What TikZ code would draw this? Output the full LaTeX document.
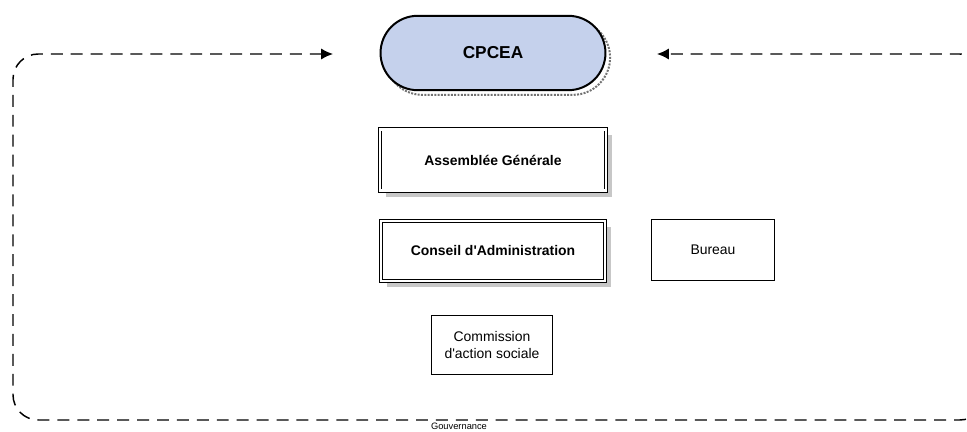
\documentclass[tikz,border=0pt]{standalone}
\usepackage{fontspec}
\setmainfont{Liberation Sans}
\usepackage{tikz}
\usetikzlibrary{%
	arrows.meta,%
	shapes.misc,%
	shadows
}
\definecolor{pillblue}{RGB}{197,209,236}

\begin{document}
\begin{tikzpicture}[x=0.02646cm, y=-0.02646cm,
	pill/.style={rounded rectangle, draw, line width=1.5pt, fill=pillblue, minimum width=176pt, minimum height=56pt, font=\fontsize{13}{15}\selectfont\bfseries, general shadow={draw=black!55, densely dotted, line width=1.5pt, shadow xshift=3.5pt, shadow yshift=-3.5pt}},
	organe/.style={rectangle, draw, double, double distance=1.6pt, line width=0.7pt, fill=white, font=\fontsize{10.5}{13}\selectfont\bfseries, general shadow={fill=black!22, shadow xshift=4.5pt, shadow yshift=-4.5pt}},
	simple/.style={rectangle, draw, line width=0.7pt, fill=white, font=\fontsize{10.5}{13.5}\selectfont, align=center},
	boucle/.style={dash pattern=on 9pt off 6pt, line width=1.1pt, rounded corners=19pt, {Latex[length=9pt,width=8.5pt]}-{Latex[length=9pt,width=8.5pt]}}
]
	\clip (0,0) rectangle (967,432);
	% Nodes
	\node[pill] (cpcea) at (493,53) {CPCEA};
	\node[organe, minimum width=170pt, minimum height=46pt] (ag) at (493,160) {Assemblée Générale};
	\node[organe, minimum width=168pt, minimum height=45pt] (ca) at (493,251) {Conseil d\textquotesingle Administration};
	\node[simple, minimum width=92pt, minimum height=46pt] (bureau) at (713,250) {Bureau};
	\node[simple, minimum width=91pt, minimum height=44pt] (cas) at (492,345) {Commission\\d\textquotesingle action sociale};
	\node[font=\fontsize{7}{8}\selectfont, anchor=base, inner sep=0] (gouv) at (459,429) {Gouvernance};
	% Lines
	\coordinate (gauche) at (333,54);
	\coordinate (droite) at (657,54);
	\draw[boucle] (gauche) -- (13,54) -- (13,420) -- (985,420) -- (985,54) -- (droite);
\end{tikzpicture}
\end{document}
